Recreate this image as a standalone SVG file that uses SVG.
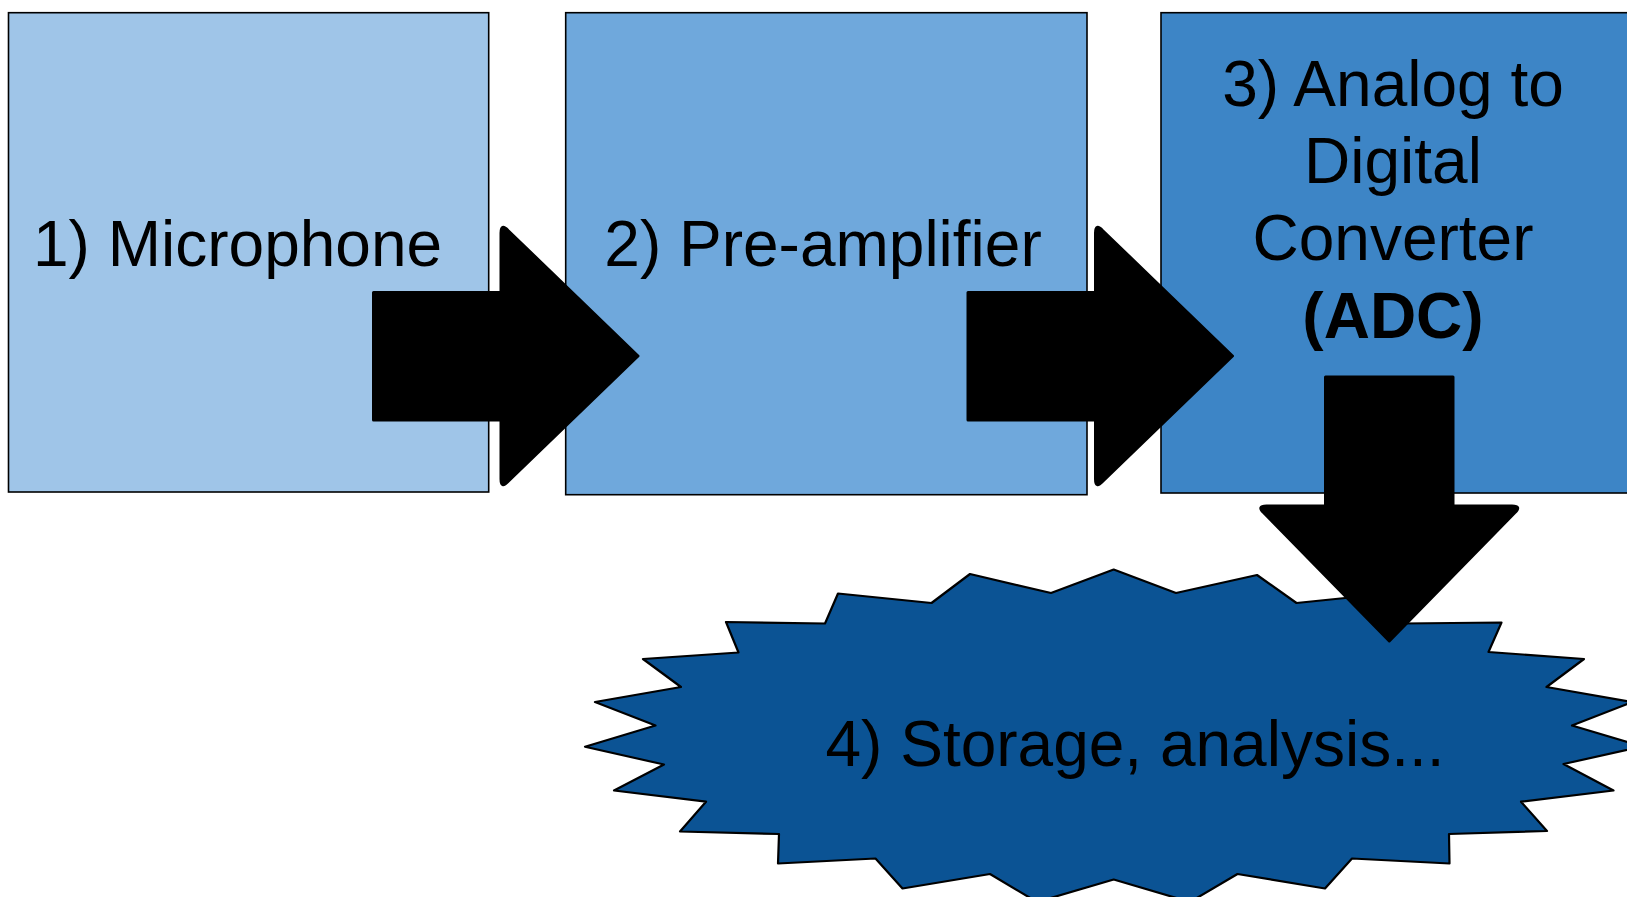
<svg xmlns="http://www.w3.org/2000/svg" width="1627" height="897" viewBox="0 0 1627 897">
  <style>
    .box { stroke: #000; stroke-width: 1.6; }
    .lbl { font-family: "Liberation Sans", Arial, sans-serif; font-size: 64px; fill: #000; }
    .mid { text-anchor: middle; }
    .arrow { fill: #000; stroke: #000; stroke-width: 3; stroke-linejoin: round; }
    .burst { fill: #0b5394; stroke: #000; stroke-width: 2.2; stroke-linejoin: round; }
  </style>
  <rect width="1627" height="897" fill="#ffffff"/>

  <g id="node-microphone">
    <rect class="box" x="8.5" y="12.7" width="480.2" height="479.3" fill="#9fc5e8"/>
    <text class="lbl" x="33" y="265.7">1) Microphone</text>
  </g>

  <g id="node-preamplifier">
    <rect class="box" x="565.7" y="12.7" width="521.3" height="482" fill="#6fa8dc"/>
    <text class="lbl mid" x="823" y="265.7">2) Pre-amplifier</text>
  </g>

  <g id="node-adc">
    <rect class="box" x="1161" y="12.7" width="480" height="480.3" fill="#3d85c6"/>
    <text class="lbl mid" x="1393" y="105.7">3) Analog to</text>
    <text class="lbl mid" x="1393" y="183.3">Digital</text>
    <text class="lbl mid" x="1393" y="260">Converter</text>
    <text class="lbl mid" x="1393" y="337.7" font-weight="bold">(ADC)</text>
  </g>

  <g id="node-storage">
    <path class="burst" d="M1113.7,569.5 L1176,593 L1257,575 L1296.5,603 L1389,593.5 L1402.5,623.5 L1501.5,622.5 L1488.5,652 L1584,659 L1546.5,687 L1632.5,702 L1572,725.5 L1642.5,746.5 L1563.5,764 L1613.5,790.5 L1521,801.7 L1547,831 L1449,834 L1449.5,863.5 L1352,858.5 L1325,888.5 L1237.5,874 L1190,902 L1113.7,879.5 L1037,902 L990,874 L902.5,888.5 L875.5,858.5 L778,863.5 L779,834 L680,831.5 L706,801.7 L614,790.5 L664,764.5 L585,746.7 L655.5,725.5 L595,702 L681,687 L643,659 L738.5,652.5 L726,622 L825,623.5 L838,593.5 L931.5,603 L970,574 L1051,593 Z"/>
    <text class="lbl mid" x="1135" y="765.5">4) Storage, analysis...</text>
  </g>

  <g id="connectors">
    <path class="arrow" d="M373.5,292.5 H501 V233 Q501,223 508,230.5 L638,356 L508,481.5 Q501,489 501,479 V420 H373.5 Z"/>
    <path class="arrow" d="M968,292.5 H1095.5 V233 Q1095.5,223 1102.5,230.5 L1232.5,356 L1102.5,481.5 Q1095.5,489 1095.5,479 V420 H968 Z"/>
    <path class="arrow" d="M1325.5,377 H1453 V506 H1512 Q1522,506 1514.5,513 L1389.3,641 L1264,513 Q1256.5,506 1266.5,506 H1325.5 Z"/>
  </g>
</svg>
